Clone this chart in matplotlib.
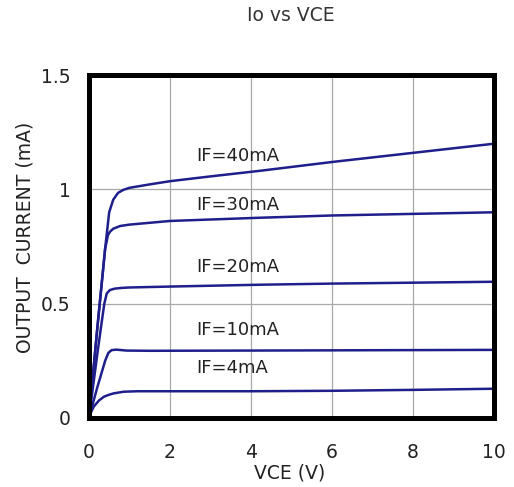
import matplotlib
matplotlib.use("Agg")
import matplotlib.pyplot as plt

plt.rcParams['font.family'] = ['DejaVu Sans']

# Data (VCE in V, output current in mA)
vce_40 = [0, 0.1, 0.2, 0.3, 0.4, 0.5, 0.6, 0.72, 0.85, 1.0, 1.5, 2.0, 3.0, 4.2, 6.0, 8.0, 10.0]
io_40 = [0, 0.19, 0.38, 0.56, 0.74, 0.90, 0.955, 0.985, 0.998, 1.007, 1.022, 1.036, 1.057, 1.081, 1.12, 1.16, 1.20]

vce_30 = [0, 0.1, 0.2, 0.3, 0.4, 0.47, 0.52, 0.6, 0.77, 1.0, 2.0, 4.2, 6.0, 8.0, 10.0]
io_30 = [0, 0.19, 0.38, 0.56, 0.74, 0.80, 0.815, 0.828, 0.84, 0.846, 0.862, 0.876, 0.886, 0.893, 0.90]

vce_20 = [0, 0.1, 0.2, 0.3, 0.38, 0.44, 0.52, 0.64, 0.8, 1.0, 2.0, 4.2, 6.0, 8.0, 10.0]
io_20 = [0, 0.135, 0.27, 0.40, 0.50, 0.545, 0.56, 0.566, 0.569, 0.571, 0.575, 0.583, 0.588, 0.592, 0.596]

vce_10 = [0, 0.1, 0.2, 0.3, 0.4, 0.48, 0.56, 0.68, 0.93, 1.5, 4.0, 6.0, 8.0, 10.0]
io_10 = [0, 0.065, 0.13, 0.19, 0.25, 0.285, 0.297, 0.299, 0.295, 0.294, 0.295, 0.296, 0.297, 0.298]

vce_4 = [0, 0.06, 0.12, 0.25, 0.37, 0.5, 0.62, 0.86, 1.2, 2.0, 4.0, 6.0, 8.0, 10.0]
io_4 = [0, 0.028, 0.05, 0.077, 0.093, 0.102, 0.108, 0.115, 0.117, 0.117, 0.117, 0.119, 0.123, 0.128]

labels = ['IF=40mA', 'IF=30mA', 'IF=20mA', 'IF=10mA', 'IF=4mA']
label_x = [2.64, 2.64, 2.64, 2.64, 2.64]
label_y = [1.145, 0.93, 0.662, 0.386, 0.219]

x_ticks = [0, 2, 4, 6, 8, 10]
y_ticks = [0, 0.5, 1.0, 1.5]
y_tick_labels = ['0', '0.5', '1', '1.5']

line_color = '#1f1f8c'
text_color = '#222222'

fig = plt.figure(figsize=(5.14, 4.87), dpi=100)
ax = fig.add_axes([0.173, 0.1417, 0.788, 0.704])

for xs, ys in [(vce_40, io_40), (vce_30, io_30), (vce_20, io_20), (vce_10, io_10), (vce_4, io_4)]:
    ax.plot(xs, ys, color=line_color, lw=1.8, solid_joinstyle='round', zorder=3)

for t, lx, ly in zip(labels, label_x, label_y):
    ax.text(lx, ly, t, fontsize=13, ha='left', va='center', color=text_color, zorder=4)

ax.set_xlim(0, 10)
ax.set_ylim(0, 1.5)
ax.set_xticks(x_ticks)
ax.set_xticklabels([str(v) for v in x_ticks])
ax.set_yticks(y_ticks)
ax.set_yticklabels(y_tick_labels)
ax.tick_params(axis='both', length=0, labelsize=13.5, colors=text_color)
ax.tick_params(axis='x', pad=18)
ax.tick_params(axis='y', pad=13)
ax.grid(True, color='#a8a8a8', lw=0.9)
ax.set_axisbelow(True)
for s in ax.spines.values():
    s.set_linewidth(3.6)
    s.set_color('black')
    s.set_zorder(5)

fig.text(0.564, 0.0287, 'VCE (V)', fontsize=13.5, ha='center', va='center', color=text_color)
fig.text(0.049, 0.513, 'OUTPUT  CURRENT (mA)', fontsize=13.5, rotation=90,
         ha='center', va='center', color=text_color)
fig.text(0.565, 0.969, 'Io vs VCE', fontsize=13.5, ha='center', va='center', color='#333333')

fig.savefig('out.png', dpi=100)
